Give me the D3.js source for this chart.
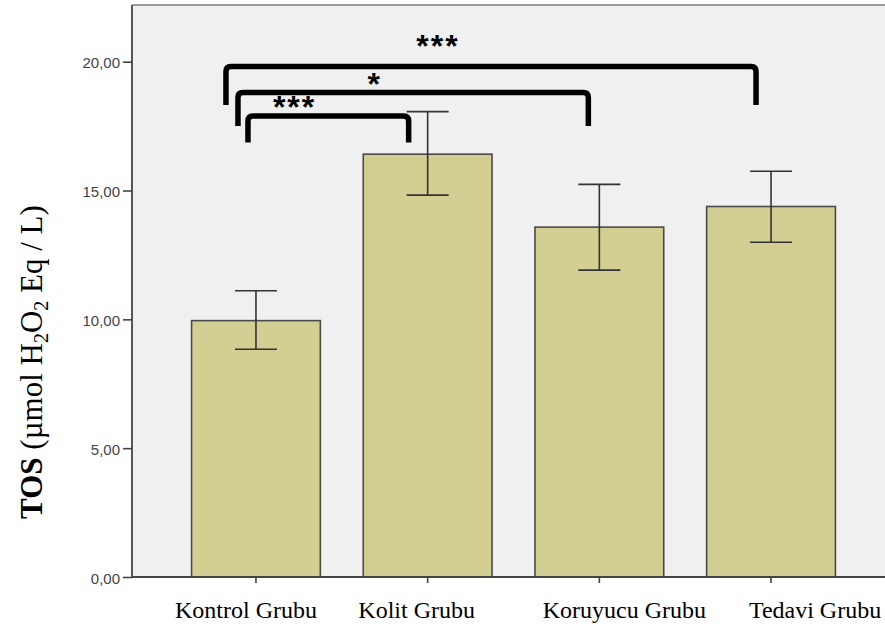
<!DOCTYPE html>
<html>
<head>
<meta charset="utf-8">
<script src="https://cdn.jsdelivr.net/npm/d3@7"></script>
<style>
  html, body { margin: 0; padding: 0; background: #ffffff; }
  svg { display: block; }
</style>
</head>
<body>
<svg id="chart" width="885" height="628"></svg>
<script>
// Group means of TOS with 95% CI limits
const categories = ["Kontrol Grubu", "Kolit Grubu", "Koruyucu Grubu", "Tedavi Grubu"];
const means   = [9.95, 16.41, 13.58, 14.38];
const ciLower = [8.84, 14.82, 11.91, 12.99];
const ciUpper = [11.11, 18.06, 15.24, 15.75];
const yTicks  = [0, 5, 10, 15, 20];

// Pairwise comparisons (group indices) and significance marks
const compFrom   = [0, 0, 0];
const compTo     = [3, 2, 1];
const compLabels = ["***", "*", "***"];

const svg = d3.select("#chart");
const W = 885, H = 628;

// plot frame
const frame = { left: 132, top: 5, right: 895, bottom: 577 };

const y = d3.scaleLinear().domain([0, 22.2]).range([frame.bottom, frame.top]);
const x = d3.scaleBand()
  .domain(categories)
  .range([frame.left, frame.right])
  .paddingInner(0.25)
  .paddingOuter(0.347);

// background panel
svg.append("rect")
  .attr("x", frame.left).attr("y", frame.top)
  .attr("width", W - frame.left).attr("height", frame.bottom - frame.top)
  .attr("fill", "#f0f0f0");

// top border
svg.append("line")
  .attr("x1", frame.left).attr("x2", W)
  .attr("y1", frame.top).attr("y2", frame.top)
  .attr("stroke", "#9a9a9a").attr("stroke-width", 2);

// bars
svg.append("g").selectAll("rect")
  .data(categories)
  .join("rect")
  .attr("x", d => x(d))
  .attr("y", (d, i) => y(means[i]))
  .attr("width", x.bandwidth())
  .attr("height", (d, i) => y(0) - y(means[i]))
  .attr("fill", "#d3ce92")
  .attr("stroke", "#4a4a4a")
  .attr("stroke-width", 1.6);

// error bars
const capHalf = 21;
const eb = svg.append("g").attr("stroke", "#333").attr("stroke-width", 1.6).attr("fill", "none");
categories.forEach((c, i) => {
  const cx = x(c) + x.bandwidth() / 2;
  eb.append("line").attr("x1", cx).attr("x2", cx).attr("y1", y(ciLower[i])).attr("y2", y(ciUpper[i]));
  eb.append("line").attr("x1", cx - capHalf).attr("x2", cx + capHalf).attr("y1", y(ciUpper[i])).attr("y2", y(ciUpper[i]));
  eb.append("line").attr("x1", cx - capHalf).attr("x2", cx + capHalf).attr("y1", y(ciLower[i])).attr("y2", y(ciLower[i]));
});

// y axis
const yAxis = d3.axisLeft(y).tickValues(yTicks).tickSize(9).tickPadding(3)
  .tickFormat(d => d3.format(".2f")(d).replace(".", ","));
const gy = svg.append("g").attr("transform", `translate(${frame.left},0)`).call(yAxis);
gy.select(".domain").remove();
gy.selectAll(".tick line").attr("stroke", "#444").attr("stroke-width", 1.6);
gy.selectAll(".tick text")
  .attr("font-family", "Liberation Sans, Arial, sans-serif")
  .attr("font-size", 15).attr("fill", "#444").attr("dy", "0.4em");
svg.append("line")
  .attr("x1", frame.left).attr("x2", frame.left)
  .attr("y1", frame.top).attr("y2", frame.bottom)
  .attr("stroke", "#444").attr("stroke-width", 1.8);

// x axis
const xAxis = d3.axisBottom(x).tickSize(6).tickFormat("");
const gx = svg.append("g").attr("transform", `translate(0,${frame.bottom})`).call(xAxis);
gx.select(".domain").remove();
gx.selectAll(".tick line").attr("stroke", "#444").attr("stroke-width", 1.6);
svg.append("line")
  .attr("x1", frame.left).attr("x2", W)
  .attr("y1", frame.bottom).attr("y2", frame.bottom)
  .attr("stroke", "#444").attr("stroke-width", 1.8);

// category labels (hand-placed shifts from the tick centres)
const labelShift = [-10, -11, 25, 44];
svg.append("g").selectAll("text")
  .data(categories)
  .join("text")
  .attr("x", (d, i) => x(d) + x.bandwidth() / 2 + labelShift[i])
  .attr("y", 618)
  .attr("text-anchor", "middle")
  .attr("font-family", "Liberation Serif, Times New Roman, serif")
  .attr("font-size", 24)
  .attr("fill", "#000")
  .text(d => d);

// y axis title
const yt = svg.append("text")
  .attr("transform", "translate(42,362) rotate(-90)")
  .attr("text-anchor", "middle")
  .attr("font-family", "Liberation Serif, Times New Roman, serif")
  .attr("font-size", 31)
  .attr("fill", "#000");
yt.append("tspan").attr("font-weight", "bold").text("TOS");
yt.append("tspan").text(" (µmol H");
yt.append("tspan").attr("font-size", 20).attr("dy", 6).text("2");
yt.append("tspan").attr("dy", -6).text("O");
yt.append("tspan").attr("font-size", 20).attr("dy", 6).text("2");
yt.append("tspan").attr("dy", -6).text(" Eq / L)");

// significance brackets, one nesting level each
const bracketTop   = [66.5, 92.5, 116];
const bracketDrop  = [38.5, 33.5, 26.5];
const leftInset    = [30, 18, 8];
const rightInset   = [15, 11, 19];
const labelFrac    = [0.4, 0.39, 0.29];
const labelLift    = [15, 3, 3];
const r = 5;
const gb = svg.append("g");
compFrom.forEach((f, k) => {
  const x0 = x(categories[f]) + x.bandwidth() / 2 - leftInset[k];
  const x1 = x(categories[compTo[k]]) + x.bandwidth() / 2 - rightInset[k];
  const t = bracketTop[k], b = t + bracketDrop[k];
  const p = d3.path();
  p.moveTo(x0, b);
  p.lineTo(x0, t + r);
  p.quadraticCurveTo(x0, t, x0 + r, t);
  p.lineTo(x1 - r, t);
  p.quadraticCurveTo(x1, t, x1, t + r);
  p.lineTo(x1, b);
  gb.append("path").attr("d", p.toString())
    .attr("fill", "none").attr("stroke", "#000").attr("stroke-width", 5.5);
  gb.append("text")
    .attr("x", x0 + labelFrac[k] * (x1 - x0))
    .attr("y", t - labelLift[k] + 5)
    .attr("text-anchor", "middle")
    .attr("font-family", "Liberation Sans, Arial, sans-serif")
    .attr("font-weight", "bold")
    .attr("font-size", 32)
    .attr("letter-spacing", 2)
    .attr("fill", "#000")
    .text(compLabels[k]);
});
</script>
</body>
</html>
